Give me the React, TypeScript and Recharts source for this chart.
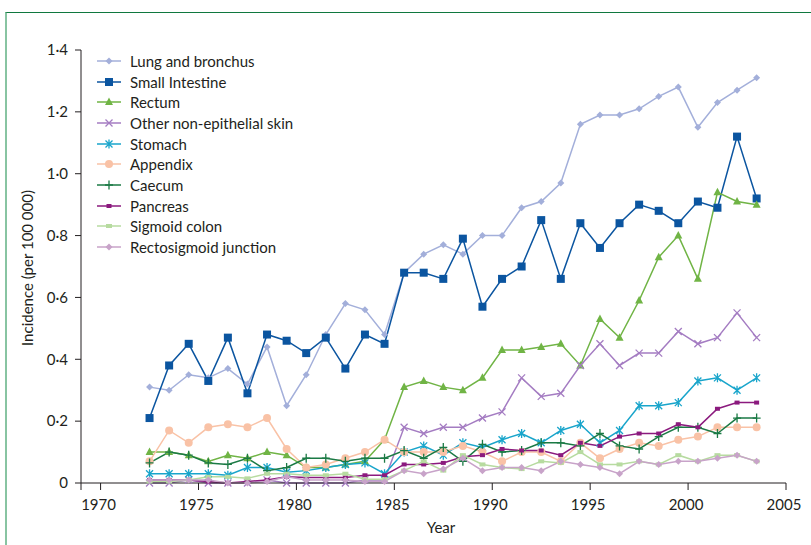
import React from 'react'
import { LineChart, Line, XAxis, YAxis } from 'recharts'

// mid-year positions (data years 1973–2004)
const yearMid = [
  1972.5, 1973.5, 1974.5, 1975.5, 1976.5, 1977.5, 1978.5, 1979.5, 1980.5, 1981.5, 1982.5,
  1983.5, 1984.5, 1985.5, 1986.5, 1987.5, 1988.5, 1989.5, 1990.5, 1991.5, 1992.5, 1993.5,
  1994.5, 1995.5, 1996.5, 1997.5, 1998.5, 1999.5, 2000.5, 2001.5, 2002.5, 2003.5,
]

const lung = [0.31, 0.3, 0.35, 0.34, 0.37, 0.32, 0.44, 0.25, 0.35, 0.48, 0.58, 0.56, 0.48, 0.68, 0.74, 0.77, 0.74, 0.8, 0.8, 0.89, 0.91, 0.97, 1.16, 1.19, 1.19, 1.21, 1.25, 1.28, 1.15, 1.23, 1.27, 1.31]
const smallIntestine = [0.21, 0.38, 0.45, 0.33, 0.47, 0.29, 0.48, 0.46, 0.42, 0.47, 0.37, 0.48, 0.45, 0.68, 0.68, 0.66, 0.79, 0.57, 0.66, 0.7, 0.85, 0.66, 0.84, 0.76, 0.84, 0.9, 0.88, 0.84, 0.91, 0.89, 1.12, 0.92]
const rectum = [0.1, 0.1, 0.09, 0.07, 0.09, 0.08, 0.1, 0.09, 0.05, 0.05, 0.06, 0.07, 0.14, 0.31, 0.33, 0.31, 0.3, 0.34, 0.43, 0.43, 0.44, 0.45, 0.38, 0.53, 0.47, 0.59, 0.73, 0.8, 0.66, 0.94, 0.91, 0.9]
const skin = [0, 0, 0.01, 0, 0, 0, 0.01, 0, 0, 0, 0, 0.01, 0.01, 0.18, 0.16, 0.18, 0.18, 0.21, 0.23, 0.34, 0.28, 0.29, 0.38, 0.45, 0.38, 0.42, 0.42, 0.49, 0.45, 0.47, 0.55, 0.47]
const stomach = [0.03, 0.03, 0.03, 0.03, 0.025, 0.05, 0.05, 0.035, 0.04, 0.05, 0.06, 0.065, 0.03, 0.1, 0.12, 0.09, 0.13, 0.115, 0.14, 0.16, 0.13, 0.17, 0.19, 0.13, 0.17, 0.25, 0.25, 0.26, 0.33, 0.34, 0.3, 0.34]
const appendix = [0.07, 0.17, 0.13, 0.18, 0.19, 0.18, 0.21, 0.11, 0.05, 0.06, 0.08, 0.1, 0.14, 0.1, 0.1, 0.1, 0.12, 0.1, 0.07, 0.1, 0.1, 0.07, 0.13, 0.08, 0.11, 0.13, 0.12, 0.14, 0.15, 0.18, 0.18, 0.18]
const caecum = [0.065, 0.1, 0.09, 0.065, 0.06, 0.08, 0.04, 0.05, 0.08, 0.08, 0.07, 0.08, 0.08, 0.105, 0.08, 0.115, 0.07, 0.125, 0.1, 0.105, 0.13, 0.13, 0.12, 0.16, 0.12, 0.11, 0.15, 0.18, 0.18, 0.16, 0.21, 0.21]
const pancreas = [0.01, 0.01, 0.01, 0.005, 0, 0.005, 0.01, 0.02, 0.018, 0.018, 0.018, 0.025, 0.025, 0.06, 0.06, 0.065, 0.085, 0.09, 0.11, 0.105, 0.105, 0.09, 0.13, 0.12, 0.15, 0.16, 0.16, 0.19, 0.18, 0.24, 0.26, 0.26]
const sigmoid = [0.005, 0.005, 0.01, 0.02, 0.02, 0.015, 0.03, 0.03, 0.025, 0.025, 0.03, 0.012, 0.012, 0.04, 0.07, 0.04, 0.09, 0.06, 0.05, 0.045, 0.07, 0.065, 0.1, 0.06, 0.06, 0.07, 0.06, 0.09, 0.07, 0.09, 0.09, 0.07]
const rectosigmoid = [0.01, 0.01, 0.01, 0.01, 0, 0, 0.005, 0.02, 0.01, 0.01, 0.01, 0.005, 0.005, 0.04, 0.03, 0.045, 0.08, 0.04, 0.05, 0.05, 0.04, 0.07, 0.06, 0.05, 0.03, 0.07, 0.06, 0.07, 0.07, 0.08, 0.09, 0.07]

const xTicks = [1969, 1970, 1975, 1980, 1985, 1990, 1995, 2000, 2005]
const yTicks = [0, 0.2, 0.4, 0.6, 0.8, 1.0, 1.2, 1.4]

type Shape = 'diamond' | 'square' | 'triangle' | 'cross' | 'star' | 'circle' | 'plus' | 'bar' | 'rect' | 'smallDiamond'

const series: { key: string; name: string; color: string; shape: Shape; values: number[] }[] = [
  { key: 'lung', name: 'Lung and bronchus', color: '#a3afda', shape: 'diamond', values: lung },
  { key: 'small', name: 'Small Intestine', color: '#0b55a0', shape: 'square', values: smallIntestine },
  { key: 'rectum', name: 'Rectum', color: '#70b445', shape: 'triangle', values: rectum },
  { key: 'skin', name: 'Other non-epithelial skin', color: '#a47cc2', shape: 'cross', values: skin },
  { key: 'stomach', name: 'Stomach', color: '#19a5cb', shape: 'star', values: stomach },
  { key: 'appendix', name: 'Appendix', color: '#f9c2a6', shape: 'circle', values: appendix },
  { key: 'caecum', name: 'Caecum', color: '#1b7a45', shape: 'plus', values: caecum },
  { key: 'pancreas', name: 'Pancreas', color: '#8b1a7e', shape: 'bar', values: pancreas },
  { key: 'sigmoid', name: 'Sigmoid colon', color: '#b7dba0', shape: 'rect', values: sigmoid },
  { key: 'rectosig', name: 'Rectosigmoid junction', color: '#c8a3c9', shape: 'smallDiamond', values: rectosigmoid },
]

const data = yearMid.map((x, i) => {
  const row: Record<string, number> = { x }
  series.forEach(s => { row[s.key] = s.values[i] })
  return row
})

const ink = '#231f20'
const font = 'Lato, "Open Sans", sans-serif'

function Marker({ shape, cx, cy, color }: { shape: Shape; cx: number; cy: number; color: string }) {
  switch (shape) {
    case 'diamond':
    case 'smallDiamond':
      return <polygon points={`${cx},${cy - 3.5} ${cx + 3.5},${cy} ${cx},${cy + 3.5} ${cx - 3.5},${cy}`} fill={color} />
    case 'square':
      return <rect x={cx - 4} y={cy - 4} width={8} height={8} fill={color} />
    case 'triangle':
      return <polygon points={`${cx},${cy - 4.5} ${cx + 4},${cy + 3} ${cx - 4},${cy + 3}`} fill={color} />
    case 'cross':
      return <path d={`M${cx - 3.5},${cy - 3.5}L${cx + 3.5},${cy + 3.5}M${cx - 3.5},${cy + 3.5}L${cx + 3.5},${cy - 3.5}`} stroke={color} strokeWidth={1.3} />
    case 'star':
      return <path d={`M${cx - 3.5},${cy - 3.5}L${cx + 3.5},${cy + 3.5}M${cx - 3.5},${cy + 3.5}L${cx + 3.5},${cy - 3.5}M${cx},${cy - 4.5}L${cx},${cy + 4.5}`} stroke={color} strokeWidth={1.3} />
    case 'circle':
      return <circle cx={cx} cy={cy} r={4} fill={color} />
    case 'plus':
      return <path d={`M${cx - 4},${cy}L${cx + 4},${cy}M${cx},${cy - 4.5}L${cx},${cy + 4.5}`} stroke={color} strokeWidth={1.3} />
    case 'bar':
      return <rect x={cx - 2.5} y={cy - 2} width={5} height={4} fill={color} />
    case 'rect':
      return <rect x={cx - 3} y={cy - 2} width={6} height={4} fill={color} />
  }
  return null
}

function ChartLegend() {
  return (
    <div style={{ position: 'absolute', left: 96, top: 50.5, fontFamily: font, fontSize: 15, color: ink }}>
      {series.map(s => (
        <div key={s.key} style={{ display: 'flex', alignItems: 'center', height: 20.7 }}>
          <svg width={26} height={12} style={{ marginRight: 8 }}>
            <line x1={1} x2={25} y1={6} y2={6} stroke={s.color} strokeWidth={1.5} />
            <Marker shape={s.shape} cx={13} cy={6} color={s.color} />
          </svg>
          <span>{s.name}</span>
        </div>
      ))}
    </div>
  )
}

const YLabel = () => (
  <text transform="translate(33,268) rotate(-90)" textAnchor="middle" fontFamily={font} fontSize={15} fill={ink}>
    Incidence (per 100 000)
  </text>
)

const XLabel = () => (
  <text x={441} y={533} textAnchor="middle" fontFamily={font} fontSize={15} fill={ink}>
    Year
  </text>
)

const fmtY = (v: number) => (v === 0 ? '0' : v.toFixed(1).replace('.', '·'))
const fmtX = (v: number) => (v === 1969 ? '' : String(v))

export default function App() {
  return (
    <div style={{ position: 'absolute', left: 0, top: 0, width: 811, height: 545, overflow: 'hidden', background: '#fff' }}>
      <div
        style={{
          position: 'absolute', left: 5, top: 12, width: 900, height: 700,
          borderTop: '1.5px solid #10783f', borderLeft: '2px solid #88c4a2',
        }}
      />
      <div style={{ position: 'absolute', left: 0, top: 0 }}>
        <LineChart width={811} height={545} data={data} margin={{ top: 50, right: 25, bottom: 22, left: 21 }}>
          <XAxis
            dataKey="x"
            type="number"
            domain={[1969, 2005]}
            ticks={xTicks}
            tickFormatter={fmtX}
            interval={0}
            height={40}
            stroke={ink}
            tickSize={7}
            tickMargin={9}
            tick={{ fill: ink, fontSize: 15, fontFamily: font, dx: -2 }}
            label={<XLabel />}
          />
          <YAxis
            type="number"
            domain={[0, 1.4]}
            ticks={yTicks}
            tickFormatter={fmtY}
            interval={0}
            width={60}
            stroke={ink}
            tickSize={6}
            tickMargin={7}
            tick={{ fill: ink, fontSize: 15, fontFamily: font }}
            label={<YLabel />}
          />
          {series.map(s => (
            <Line
              key={s.key}
              dataKey={s.key}
              name={s.name}
              type="linear"
              stroke={s.color}
              strokeWidth={1.5}
              isAnimationActive={false}
              activeDot={false}
              dot={(p: any) => <Marker key={`${s.key}-${p.index}`} shape={s.shape} cx={p.cx} cy={p.cy} color={s.color} />}
            />
          ))}
        </LineChart>
      </div>
      <ChartLegend />
    </div>
  )
}
